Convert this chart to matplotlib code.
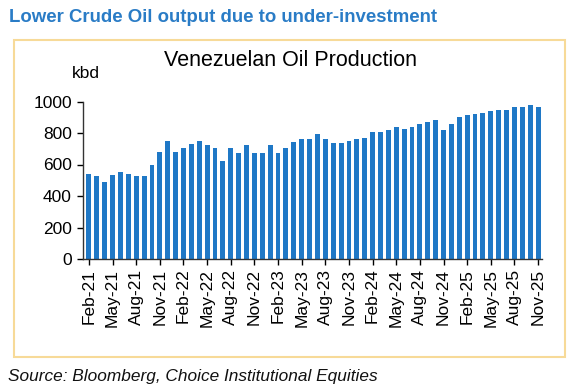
import matplotlib
matplotlib.use('Agg')
import matplotlib.pyplot as plt
from matplotlib.patches import Rectangle
import pandas as pd

# --- dados (kbd) ---
meses = pd.date_range('2021-02-01', '2025-11-01', freq='MS')
producao = [538, 528, 487, 534, 551, 540, 530, 530, 598, 681,
            751, 681, 702, 728, 751, 721, 702, 623, 702, 672,
            721, 672, 672, 721, 672, 702, 740, 760, 760, 791,
            760, 734, 734, 749, 760, 770, 804, 804, 819, 840,
            828, 840, 860, 872, 883, 819, 860, 900, 913, 919,
            930, 940, 949, 949, 964, 968, 979, 966]
rotulos = [m.strftime('%b-%y') for m in meses]
y_ticks = [0, 200, 400, 600, 800, 1000]

titulo = 'Lower Crude Oil output due to under-investment'
titulo_grafico = 'Venezuelan Oil Production'
fonte = 'Source: Bloomberg, Choice Institutional Equities'

plt.rcParams['font.family'] = ['Liberation Sans', 'DejaVu Sans']

W, H = 575, 385
fig = plt.figure(figsize=(W / 100, H / 100), dpi=100)

# moldura
fig.patches.append(Rectangle((14 / W, 1 - 357 / H), (565 - 14) / W, (357 - 40) / H,
                             transform=fig.transFigure, facecolor='white',
                             edgecolor='#f7da98', linewidth=1.5, zorder=-5))

ax = fig.add_axes([83 / W, 1 - 259 / H, 459 / W, (259 - 101.5) / H])
ax.set_facecolor('none')

x = list(range(len(producao)))
ax.bar(x, producao, width=0.62, color='#1f78c6', zorder=2)

ax.set_xlim(-0.75, len(producao) - 0.5)
ax.set_ylim(0, 1000)
ax.set_yticks(y_ticks)
ax.set_xticks(x[::3])
ax.set_xticklabels(rotulos[::3], rotation=90, fontsize=12.5)
ax.tick_params(axis='y', labelsize=12.5, length=4, width=1, pad=4)
ax.tick_params(axis='x', length=4, width=1, pad=3)

for lado in ['top', 'right']:
    ax.spines[lado].set_visible(False)
for lado in ['left', 'bottom']:
    ax.spines[lado].set_color('#333333')
    ax.spines[lado].set_linewidth(1)

fig.text(9 / W, 1 - 17 / H, titulo, fontsize=13.4, fontweight='bold',
         color='#2a7cc6', va='center', ha='left')
fig.text(290 / W, 1 - 60 / H, titulo_grafico, fontsize=15.5, va='center', ha='center')
fig.text(86 / W, 1 - 74 / H, 'kbd', fontsize=12.5, va='center', ha='center')
fig.text(8 / W, 1 - 377 / H, fonte, fontsize=12.4, style='italic',
         va='center', ha='left', color='#111111')

fig.savefig('out.png', dpi=100)
